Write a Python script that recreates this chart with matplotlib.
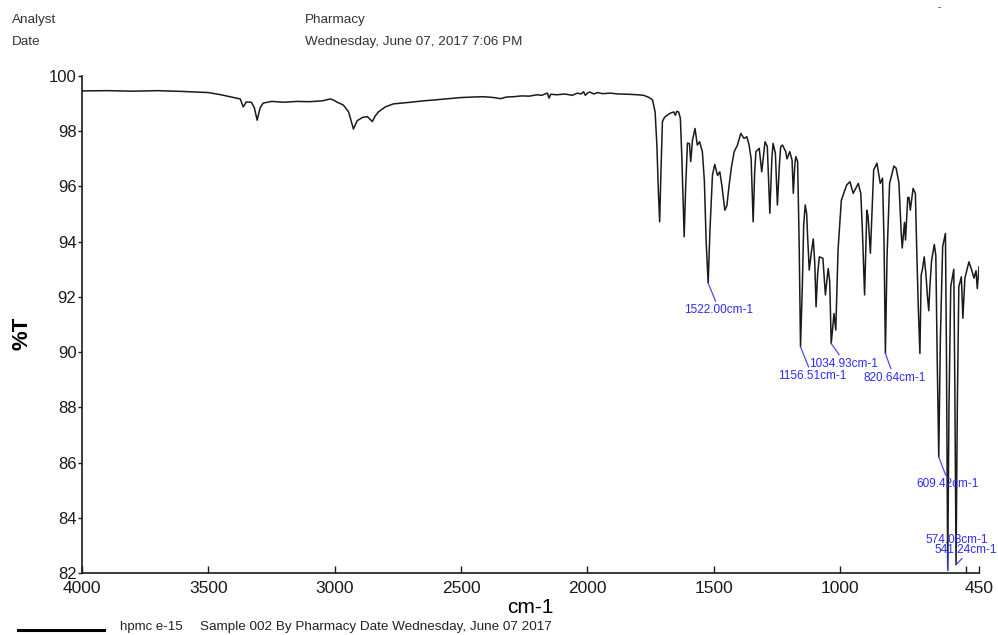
import matplotlib
matplotlib.use('Agg')
import matplotlib.pyplot as plt

plt.rcParams['font.family'] = ['Liberation Sans', 'DejaVu Sans']

# spectrum (wavenumber cm-1, %T)
wavenumber = [
    4000, 3900, 3800, 3700, 3600, 3500, 3450, 3400, 3374, 3362, 3350, 3330, 3318, 3307, 3295, 3283,
    3250, 3200, 3150, 3100, 3050, 3017, 3005, 2990, 2966, 2945, 2926, 2911, 2890, 2871, 2851, 2840,
    2827, 2800, 2768, 2700, 2650, 2609, 2550, 2500, 2450, 2411, 2370, 2344, 2320, 2292, 2260, 2230,
    2200, 2180, 2165, 2158, 2152, 2145, 2120, 2090, 2060, 2040, 2025, 2015, 2008, 2000, 1990, 1975,
    1960, 1940, 1910, 1880, 1840, 1800, 1777, 1755, 1742, 1732, 1725, 1719, 1714, 1709, 1703, 1695,
    1683, 1670, 1658, 1652, 1646, 1639, 1632, 1626, 1617, 1611, 1604, 1596, 1591, 1584, 1574, 1565,
    1556, 1545, 1537, 1530, 1522, 1515, 1505, 1496, 1485, 1476, 1468, 1456, 1448, 1439, 1430, 1419,
    1406, 1393, 1380, 1369, 1360, 1352, 1344, 1338, 1333, 1320, 1310, 1297, 1288, 1278, 1270, 1265,
    1256, 1248, 1240, 1235, 1228, 1215, 1210, 1199, 1190, 1185, 1179, 1175, 1168, 1162, 1156.5, 1149,
    1144, 1138, 1132, 1129, 1122, 1114, 1106, 1100, 1095, 1089, 1082, 1068, 1058, 1047, 1041, 1035,
    1024, 1017, 1008, 995, 974, 961, 948, 928, 918, 912, 903, 894, 889, 880, 867, 854,
    841, 832, 826, 820.6, 814, 804, 787, 778, 767, 758, 754, 745, 741, 732, 727, 722,
    711, 702, 696, 690, 684, 679, 674, 667, 660, 654, 649, 645, 638, 627, 621, 616,
    609.4, 603, 594, 583, 579, 574, 569, 562, 550, 546, 541, 536, 530, 520, 514, 506,
    490, 480, 470, 462, 457, 450,
]
transmittance = [
    99.46, 99.47, 99.45, 99.47, 99.44, 99.40, 99.32, 99.22, 99.17, 98.88, 99.06, 99.05, 98.85, 98.40, 98.85, 99.02,
    99.08, 99.05, 99.08, 99.07, 99.10, 99.17, 99.13, 99.05, 98.95, 98.70, 98.08, 98.38, 98.50, 98.53, 98.35, 98.55,
    98.70, 98.88, 98.99, 99.05, 99.10, 99.13, 99.18, 99.22, 99.24, 99.25, 99.22, 99.18, 99.24, 99.25, 99.28, 99.27,
    99.32, 99.30, 99.36, 99.38, 99.20, 99.34, 99.32, 99.35, 99.30, 99.38, 99.35, 99.43, 99.30, 99.38, 99.42, 99.35,
    99.40, 99.36, 99.38, 99.35, 99.34, 99.32, 99.30, 99.22, 99.13, 98.70, 97.50, 95.80, 94.72, 96.50, 98.35, 98.50,
    98.59, 98.66, 98.70, 98.58, 98.72, 98.70, 98.47, 97.00, 94.18, 96.00, 97.57, 97.55, 96.90, 97.68, 98.10, 97.50,
    97.62, 97.26, 96.20, 94.00, 92.50, 94.40, 96.41, 96.80, 96.40, 96.53, 96.05, 95.14, 95.30, 96.05, 96.70, 97.26,
    97.50, 97.92, 97.74, 97.80, 97.50, 97.00, 94.72, 96.50, 97.26, 97.38, 96.53, 97.62, 97.45, 95.03, 97.00, 97.56,
    97.20, 95.33, 96.80, 97.44, 97.50, 97.26, 97.00, 97.26, 96.95, 95.75, 96.80, 97.08, 96.90, 94.00, 90.19, 92.50,
    94.60, 95.33, 95.00, 94.30, 92.97, 93.60, 94.10, 93.20, 91.64, 92.80, 93.45, 93.40, 92.07, 93.03, 92.57, 90.31,
    91.40, 90.80, 93.70, 95.50, 96.05, 96.17, 95.75, 96.11, 95.75, 94.50, 92.07, 95.14, 94.90, 93.58, 96.60, 96.84,
    96.11, 96.30, 94.00, 89.95, 93.50, 96.11, 96.74, 96.66, 96.12, 94.30, 93.77, 94.70, 94.06, 95.60, 95.60, 95.14,
    95.93, 95.75, 93.50, 91.50, 89.95, 92.80, 93.00, 93.45, 92.80, 92.00, 91.50, 92.30, 93.30, 93.90, 93.50, 90.00,
    86.20, 90.50, 93.82, 94.30, 90.00, 82.10, 88.00, 92.37, 93.00, 89.00, 82.30, 88.00, 92.37, 92.73, 91.23, 92.68,
    93.27, 93.00, 92.68, 92.95, 92.30, 93.09,
]

# labelled peaks
peak_labels = ['1522.00cm-1', '1156.51cm-1', '1034.93cm-1', '820.64cm-1',
               '609.42cm-1', '574.08cm-1', '541.24cm-1']
peak_wn = [1522.00, 1156.51, 1034.93, 820.64, 609.42, 574.08, 541.24]
peak_t = [92.50, 90.19, 90.31, 89.95, 86.20, 82.10, 82.30]

fig = plt.figure(figsize=(9.98, 6.35), dpi=100)
ax = fig.add_axes([0.0822, 0.0976, 0.8988, 0.7827])

ax.plot(wavenumber, transmittance, color='#1a1a1a', linewidth=1.1)

ax.set_xlim(4000, 450)
ax.set_ylim(82, 100)
ax.set_xticks([4000, 3500, 3000, 2500, 2000, 1500, 1000, 500, 450])
ax.set_xticklabels(['4000', '3500', '3000', '2500', '2000', '1500', '1000', '', '450'])
ax.set_yticks(range(82, 101, 2))

for side in ['top', 'right']:
    ax.spines[side].set_visible(False)
for side in ['left', 'bottom']:
    ax.spines[side].set_linewidth(1.2)
    ax.spines[side].set_color('#1a1a1a')

ax.tick_params(axis='x', direction='in', length=5, width=1, pad=6, labelsize=12.5, colors='#1a1a1a')
ax.tick_params(axis='y', direction='out', length=3, width=1, pad=1, labelsize=12, colors='#1a1a1a')

ax.set_xlabel('cm-1', fontsize=15)
ax.xaxis.set_label_coords(0.5, -0.07)
ax.xaxis.label.set_va('center')
ax.set_ylabel('%T', fontsize=16, fontweight='bold')
ax.yaxis.set_label_coords(-0.067, 0.483)
ax.yaxis.label.set_va('center')

# label offsets in pixels (text centre relative to the peak) and leader attach point
offsets_px = [(10, -27), (12, -29), (12, -20), (9, -24), (9, -27), (9, 30), (10, 15)]
relpos = [(0.48, 1.0), (0.46, 1.0), (0.47, 1.0), (0.46, 1.0), (0.5, 0.8), (0.37, 0.0), (0.48, 0.0)]
px2pt = 72 / 100
for lab, wn, t, (dx, dy), rp in zip(peak_labels, peak_wn, peak_t, offsets_px, relpos):
    ax.annotate(lab, xy=(wn, t), xytext=(dx * px2pt, dy * px2pt), textcoords='offset points',
                ha='center', va='center', fontsize=8.5, color='#2b2bff',
                arrowprops=dict(arrowstyle='-', color='#4a4af0', lw=0.9,
                                shrinkA=0, shrinkB=0, relpos=rp),
                annotation_clip=False)

# header
hdr = dict(fontsize=9.7, color='#333333', va='center')
fig.text(0.012, 0.968, 'Analyst', **hdr)
fig.text(0.012, 0.934, 'Date', **hdr)
fig.text(0.3056, 0.968, 'Pharmacy', **hdr)
fig.text(0.3056, 0.934, 'Wednesday, June 07, 2017 7:06 PM', **hdr)
fig.text(0.939, 0.988, '-', fontsize=7, color='#333333', va='center')

# legend row at the bottom
fig.add_artist(plt.Line2D([0.018, 0.104], [0.008, 0.008], color='black', linewidth=2.2))
fig.text(0.120, 0.012, 'hpmc e-15', fontsize=9.5, color='#222222', va='center')
fig.text(0.200, 0.012, 'Sample 002 By Pharmacy Date Wednesday, June 07 2017',
         fontsize=9.7, color='#222222', va='center')

fig.savefig('out.png', dpi=100)
